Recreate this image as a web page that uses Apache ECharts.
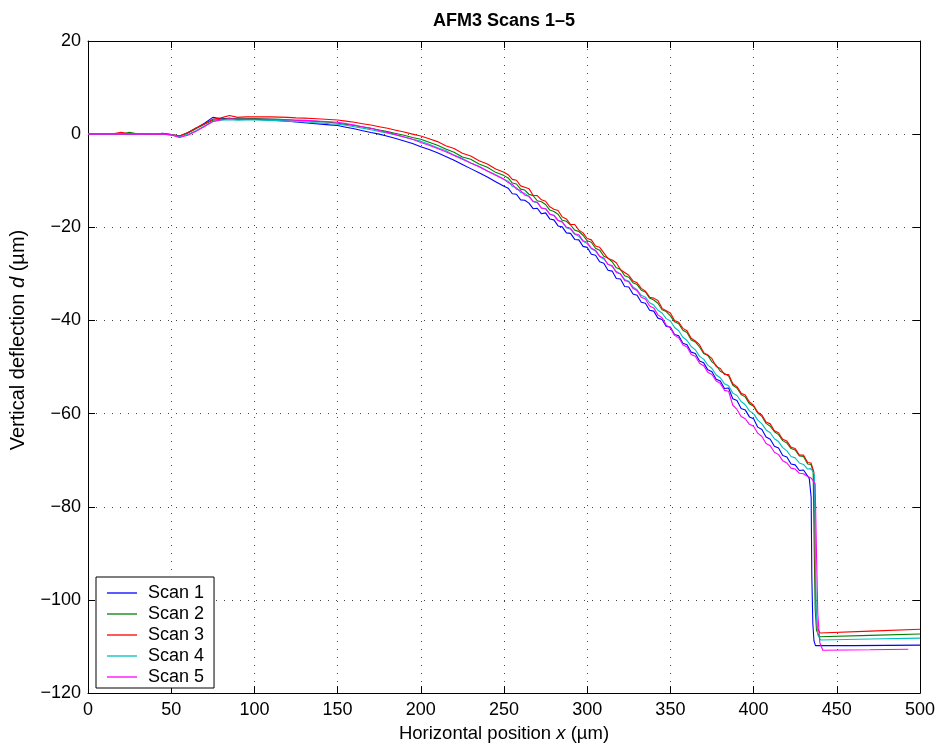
<!DOCTYPE html>
<html>
<head>
<meta charset="utf-8">
<title>AFM3 Scans 1–5</title>
<script src="https://cdn.jsdelivr.net/npm/echarts/dist/echarts.min.js"></script>
<style>
  html, body { margin: 0; padding: 0; background: #fff; }
  #chart { width: 938px; height: 748px; }
</style>
</head>
<body>
<div id="chart"></div>
<script>
// Horizontal positions (µm) shared by the main part of every scan
const posMain = [
  0, 5, 10, 15, 20, 25, 30, 35, 40, 45,
  50, 55, 60, 65, 70, 75, 80, 85, 90, 95,
  100, 105, 110, 115, 120, 125, 130, 135, 140, 145,
  150, 155, 160, 165, 170, 175, 180, 185, 190, 195,
  200, 205, 210, 215, 220, 225, 230, 235, 240, 245,
  250,
  252.5, 255, 257.5, 260, 262.5, 265, 267.5, 270, 272.5, 275,
  277.5, 280, 282.5, 285, 287.5, 290, 292.5, 295, 297.5, 300,
  302.5, 305, 307.5, 310, 312.5, 315, 317.5, 320, 322.5, 325,
  327.5, 330, 332.5, 335, 337.5, 340, 342.5, 345, 347.5, 350,
  352.5, 355, 357.5, 360, 362.5, 365, 367.5, 370, 372.5, 375,
  377.5, 380, 382.5, 385, 387.5, 390, 392.5, 395, 397.5, 400,
  402.5, 405, 407.5, 410, 412.5, 415, 417.5, 420, 422.5, 425,
  427.5, 430, 432.5
];

// Vertical deflection (µm) of each scan at posMain
const scan1 = [
  0, 0, 0, 0, 0, 0, 0, 0, 0, 0.2,
  -0.1, -0.45, 0.3, 1.3, 2.35, 3.6, 3.3, 3.4, 3.2, 3.25,
  3.25, 3.1, 3.0, 2.9, 2.8, 2.6, 2.45, 2.3, 2.15, 2.0,
  1.85, 1.5, 1.15, 0.75, 0.35, 0.0, -0.45, -0.95, -1.45, -2.0,
  -2.7, -3.3, -4.0, -4.8, -5.6, -6.5, -7.4, -8.3, -9.2, -10.2,
  -11.2,
  -11.6, -12.8, -12.9, -14.1, -14.2, -14.8, -16.0, -15.9, -17.1, -16.9,
  -18.2, -18.4, -19.7, -19.9, -21.2, -21.3, -22.6, -22.7, -24.1, -24.3,
  -25.8, -26.0, -27.4, -27.7, -29.2, -29.4, -31.0, -31.1, -32.7, -32.8,
  -34.3, -34.6, -36.1, -36.3, -37.8, -38.0, -39.5, -39.8, -41.3, -41.4,
  -43.0, -43.3, -44.9, -45.2, -46.8, -47.1, -48.7, -49.1, -50.6, -51.0,
  -52.6, -53.0, -54.6, -54.5, -56.8, -57.2, -58.9, -59.2, -60.7, -61.1,
  -62.9, -63.4, -65.0, -65.5, -67.0, -67.4, -69.0, -69.3, -70.8, -71.0,
  -72.2, -72.1, -73.4
];
const scan2 = [
  0, 0, 0, 0, 0, 0.4, 0, 0, 0, 0,
  -0.1, -0.4, 0.25, 1.2, 2.15, 3.0, 3.2, 3.4, 3.3, 3.3,
  3.35, 3.3, 3.25, 3.2, 3.1, 3.0, 2.9, 2.8, 2.7, 2.55,
  2.35, 2.1, 1.85, 1.55, 1.25, 0.9, 0.55, 0.15, -0.25, -0.7,
  -1.1, -1.75, -2.4, -3.2, -3.9, -4.9, -5.4, -6.4, -7.1, -8.2,
  -8.9,
  -9.4, -10.5, -10.7, -11.8, -12.0, -12.9, -13.2, -14.3, -14.5, -15.1,
  -16.3, -16.6, -17.2, -18.5, -18.7, -19.5, -20.6, -20.9, -21.7, -22.9,
  -23.2, -24.5, -24.9, -26.2, -26.6, -27.4, -28.7, -29.0, -30.4, -30.7,
  -31.9, -32.3, -33.5, -33.9, -35.2, -35.6, -36.3, -37.7, -38.1, -39.0,
  -40.3, -40.7, -42.1, -42.6, -44.2, -44.6, -45.7, -47.1, -47.5, -48.9,
  -49.6, -50.9, -51.4, -51.9, -53.9, -54.5, -55.9, -56.4, -57.9, -58.4,
  -59.9, -60.6, -62.1, -62.7, -63.9, -64.5, -65.8, -66.3, -67.5, -67.8,
  -69.1, -69.2, -70.8
];
const scan3 = [
  0, 0, 0, 0.1, 0.4, 0, 0, 0, 0, 0,
  -0.1, -0.4, 0.35, 1.3, 2.25, 3.2, 3.5, 4.0, 3.6, 3.7,
  3.75, 3.7, 3.7, 3.65, 3.6, 3.5, 3.45, 3.35, 3.25, 3.15,
  3.05, 2.8, 2.55, 2.25, 1.95, 1.6, 1.25, 0.85, 0.45, 0.0,
  -0.4, -1.0, -1.6, -2.5, -3.1, -4.1, -4.7, -5.7, -6.4, -7.5,
  -8.2,
  -8.7, -9.7, -9.9, -11.1, -11.4, -11.7, -13.1, -13.2, -14.1, -14.4,
  -15.6, -16.1, -16.4, -17.8, -18.2, -19.4, -19.4, -20.6, -21.2, -22.4,
  -22.7, -24.0, -24.3, -25.5, -26.7, -27.0, -27.6, -29.1, -29.7, -30.3,
  -31.5, -31.9, -33.1, -33.7, -35.0, -35.2, -35.7, -37.4, -37.9, -38.4,
  -40.0, -40.4, -41.7, -42.2, -43.8, -44.4, -45.2, -46.9, -47.4, -48.2,
  -49.9, -50.3, -51.6, -51.6, -53.6, -54.2, -55.6, -56.0, -57.5, -58.2,
  -59.7, -60.3, -61.8, -62.2, -63.7, -64.1, -65.5, -65.9, -67.2, -67.5,
  -68.9, -68.9, -70.5
];
const scan4 = [
  0, 0, 0, 0, 0, 0, 0, 0, 0.1, 0,
  -0.1, -0.6, -0.05, 0.8, 1.75, 2.7, 3.0, 3.1, 3.0, 3.05,
  3.05, 3.0, 2.95, 2.9, 2.8, 2.7, 2.65, 2.5, 2.4, 2.25,
  2.15, 1.9, 1.6, 1.3, 0.95, 0.6, 0.22, -0.2, -0.62, -1.1,
  -1.5, -2.15, -2.9, -3.5, -4.5, -5.2, -6.2, -6.9, -7.9, -8.7,
  -9.7,
  -10.1, -11.2, -11.5, -12.5, -12.7, -13.4, -14.5, -14.7, -15.8, -16.0,
  -17.1, -17.5, -18.6, -18.9, -20.1, -20.4, -21.5, -21.9, -23.0, -23.5,
  -24.6, -25.1, -26.3, -26.8, -27.9, -28.4, -29.5, -30.0, -31.2, -31.6,
  -32.8, -33.4, -34.6, -35.0, -36.2, -36.7, -37.8, -38.4, -39.6, -40.1,
  -41.5, -42.2, -43.6, -44.3, -45.6, -46.3, -47.7, -48.3, -49.6, -50.3,
  -51.7, -52.3, -53.6, -54.0, -55.6, -56.1, -57.4, -58.1, -59.4, -60.0,
  -61.4, -62.2, -63.5, -64.1, -65.4, -66.0, -67.3, -68.0, -69.2, -69.5,
  -70.6, -70.9, -71.9
];
const scan5 = [
  0, 0, 0, 0, 0, 0, 0, 0, 0, 0,
  -0.15, -0.7, -0.25, 0.6, 1.65, 2.7, 3.1, 3.3, 3.2, 3.2,
  3.2, 3.2, 3.2, 3.15, 3.1, 3.0, 2.95, 2.85, 2.75, 2.65,
  2.55, 2.27, 1.98, 1.6, 1.25, 0.8, 0.38, -0.1, -0.6, -1.1,
  -1.8, -2.4, -3.1, -3.8, -4.6, -5.4, -6.2, -7.0, -7.9, -8.8,
  -9.7,
  -10.4, -10.8, -11.8, -12.1, -13.1, -13.3, -14.4, -14.6, -15.9, -16.0,
  -17.2, -17.4, -18.5, -18.8, -20.0, -20.2, -21.4, -21.6, -22.9, -23.2,
  -24.5, -24.9, -26.2, -26.6, -28.0, -28.2, -29.7, -30.0, -31.4, -31.7,
  -33.1, -33.6, -35.0, -35.4, -36.9, -37.3, -38.8, -39.4, -41.0, -41.6,
  -43.2, -43.7, -45.2, -45.7, -47.3, -47.7, -49.2, -49.7, -51.1, -51.6,
  -53.0, -53.5, -55.0, -55.2, -58.2, -59.1, -60.6, -61.1, -62.3, -62.7,
  -64.2, -64.9, -66.4, -66.9, -68.3, -68.8, -70.1, -70.6, -71.7, -71.9,
  -72.8, -72.9, -73.5
];

// Step at the far edge and the flat floor beyond it: [x (µm), d (µm)]
const scan1Tail = [[433.5, -74.0], [434.6, -78], [435.0, -95], [435.6, -105], [436.3, -108.8], [437.2, -109.8], [460, -109.8], [500, -109.7]];
const scan2Tail = [[434.5, -70.9], [435.8, -72.4], [436.4, -88], [437.0, -102], [437.8, -106.5], [439.5, -107.9], [470, -107.6], [500, -107.3]];
const scan3Tail = [[434.5, -70.6], [436.2, -72.5], [436.8, -86], [437.3, -100], [438.2, -105.8], [439.8, -107.1], [470, -106.7], [500, -106.3]];
const scan4Tail = [[434.5, -71.8], [436.5, -73.0], [437.1, -90], [437.7, -103], [438.6, -107.5], [440.3, -108.6], [470, -108.4], [500, -108.2]];
const scan5Tail = [[434.5, -73.8], [437.0, -75.0], [437.8, -90], [438.6, -103], [439.8, -109.2], [441.6, -110.8], [470, -110.7], [493, -110.6]];

const scanNames = ['Scan 1', 'Scan 2', 'Scan 3', 'Scan 4', 'Scan 5'];
const scanColors = ['#0000ff', '#008000', '#ff0000', '#00bfbf', '#ff00ff'];
const scanValues = [scan1, scan2, scan3, scan4, scan5];
const scanTails = [scan1Tail, scan2Tail, scan3Tail, scan4Tail, scan5Tail];

const FONT = '"Liberation Sans", Arial, Helvetica, sans-serif';
const withMinus = v => String(v).replace('-', '\u2212');

const axisBase = {
  type: 'value',
  axisLine: { show: true, onZero: false, lineStyle: { color: '#000', width: 1 } },
  axisTick: { show: true, inside: true, length: 7, lineStyle: { color: '#000', width: 1 } }
};
const gridDots = { show: true, lineStyle: { color: '#444', width: 1, type: [1, 7] } };
const labelText = { color: '#000', fontSize: 18, fontFamily: FONT };

const chart = echarts.init(document.getElementById('chart'), null, { renderer: 'canvas' });

chart.setOption({
  animation: false,
  backgroundColor: '#fff',
  title: {
    text: 'AFM3 Scans 1\u20135',
    left: 499,
    top: 7,
    textAlign: 'center',
    textStyle: { fontFamily: FONT, fontSize: 18, fontWeight: 'bold', color: '#000' }
  },
  grid: { left: 88, top: 41, right: 17, bottom: 51, containLabel: false },
  legend: {
    orient: 'vertical',
    left: 96,
    top: 577,
    icon: 'rect',
    itemWidth: 30,
    itemHeight: 1.3,
    itemGap: 3.0,
    padding: [7, 10, 2, 11],
    borderColor: '#000',
    borderWidth: 1,
    backgroundColor: '#fff',
    textStyle: { fontFamily: FONT, fontSize: 18, color: '#000', lineHeight: 18, padding: [0, 0, 0, 6] },
    data: scanNames
  },
  xAxis: [
    Object.assign({}, axisBase, {
      position: 'bottom', min: 0, max: 500, interval: 50,
      axisLabel: Object.assign({ margin: 8 }, labelText),
      splitLine: gridDots,
      name: 'Horizontal position {i|x} (\u00b5m)',
      nameLocation: 'middle',
      nameGap: 29,
      nameTextStyle: {
        color: '#000', fontSize: 18.5, fontFamily: FONT,
        rich: { i: { fontStyle: 'italic', fontSize: 18.5, fontFamily: FONT, color: '#000' } }
      }
    }),
    Object.assign({}, axisBase, {
      position: 'top', min: 0, max: 500, interval: 50,
      axisLabel: { show: false }, splitLine: { show: false }
    })
  ],
  yAxis: [
    Object.assign({}, axisBase, {
      position: 'left', min: -120, max: 20, interval: 20,
      axisLabel: Object.assign({ margin: 7, formatter: withMinus }, labelText),
      splitLine: gridDots,
      name: 'Vertical deflection {i|d} (\u00b5m)',
      nameLocation: 'middle',
      nameGap: 60,
      nameTextStyle: {
        color: '#000', fontSize: 20, fontFamily: FONT,
        padding: [0, 0, 0, 54],
        rich: { i: { fontStyle: 'italic', fontSize: 20, fontFamily: FONT, color: '#000' } }
      }
    }),
    Object.assign({}, axisBase, {
      position: 'right', min: -120, max: 20, interval: 20,
      axisLabel: { show: false }, splitLine: { show: false }
    })
  ],
  series: scanNames.map((name, k) => ({
    name: name,
    type: 'line',
    xAxisIndex: 0,
    yAxisIndex: 0,
    symbol: 'none',
    clip: true,
    lineStyle: { width: 1.1, color: scanColors[k] },
    itemStyle: { color: scanColors[k] },
    emphasis: { disabled: true },
    data: posMain.map((x, i) => [x, scanValues[k][i]]).concat(scanTails[k])
  }))
});
</script>
</body>
</html>
